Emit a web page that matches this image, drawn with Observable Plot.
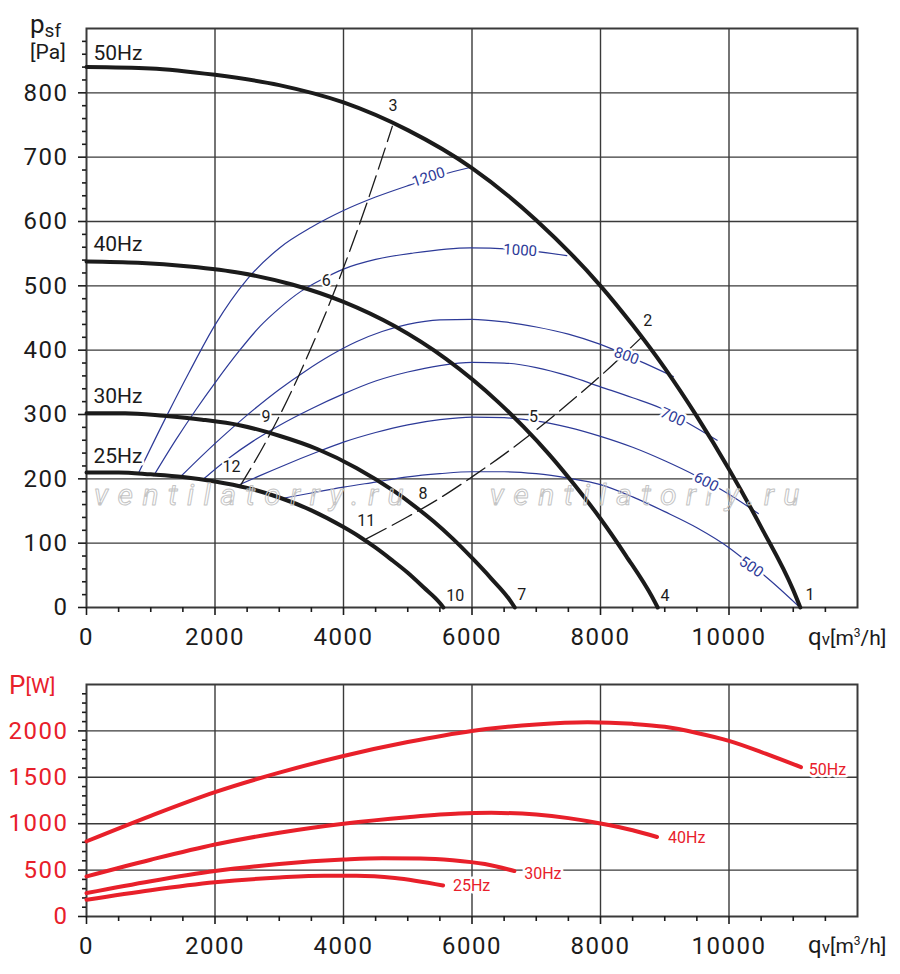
<!DOCTYPE html>
<html>
<head>
<meta charset="utf-8">
<script src="https://cdn.jsdelivr.net/npm/d3@7"></script>
<script src="https://cdn.jsdelivr.net/npm/@observablehq/plot@0.6"></script>
<style>
  html, body { margin: 0; padding: 0; background: #fff; }
  #wrap { position: relative; width: 900px; height: 974px; overflow: hidden; }
  #wrap svg text { font-family: Roboto, "DejaVu Sans", sans-serif; }
  g[aria-label="x-axis tick label"] text, g[aria-label="y-axis tick label"] text { letter-spacing: 1.5px; }
  #overlay { position: absolute; left: 0; top: 0; pointer-events: none; }
</style>
</head>
<body>
<div id="wrap"></div>
<script>
// ---------------- data ----------------
const xTicks = [0, 2000, 4000, 6000, 8000, 10000];
const pTicks = [0, 100, 200, 300, 400, 500, 600, 700, 800];
const wTicks = [0, 500, 1000, 1500, 2000];

// fan pressure curves  [qv m3/h, psf Pa]
const fanNames = ["50Hz", "40Hz", "30Hz", "25Hz"];
const fan50 = [[0,840],[1000,838],[2000,828],[3000,812],[4000,785],[5000,742],[6000,683],[7000,602],[8000,500],[8500,439],[9000,372],[9500,297],[10000,215],[10500,125],[11000,27],[11110,0]];
const fan40 = [[0,538],[800,536],[1600,530],[2400,520],[3200,502],[4000,475],[4800,437],[5600,386],[6400,320],[6800,281],[7200,238],[7600,190],[8000,138],[8400,80],[8800,17],[8890,0]];
const fan30 = [[0,302],[600,302],[1200,298],[1800,292],[2400,283],[3000,267],[3600,246],[4200,217],[4800,180],[5100,158],[5400,134],[5700,107],[6000,77],[6300,45],[6600,10],[6666,0]];
const fan25 = [[0,210],[500,210],[1000,207],[1500,203],[2000,196],[2500,186],[3000,171],[3500,151],[4000,125],[4250,110],[4500,93],[4750,74],[5000,54],[5250,31],[5500,7],[5555,0]];

// blue iso-lines
const isoNames = ["1200", "1000", "800", "700", "600", "500"];
const iso1200 = [[800,207],[1254,299],[1600,366],[2006,440],[2500,510],[3019,560],[3500,591],[4000,617],[4500,638],[5040,657],[5500,672],[5970,684]];
const iso1000 = [[1047,205],[1400,262],[1700,307],[2006,350],[2370,398],[2700,437],[3000,465],[3331,491],[3700,512],[4000,526],[4500,541],[5090,551],[5970,559],[6750,556],[7475,547]];
const iso800 = [[1451,202],[1800,236],[2100,264],[2500,299],[3000,339],[3400,367],[3800,392],[4200,413],[4600,429],[5000,440],[5500,447],[6000,448],[6500,444],[7000,436],[7500,425],[8000,409],[8500,388],[9134,359]];
const iso700 = [[1813,199],[2240,234],[2600,259],[3000,283],[3500,309],[4000,332],[4500,352],[5000,366],[5500,376],[6000,381],[6500,380],[7000,373],[7500,360],[8000,343],[8500,326],[8933,310],[9339,288],[9816,260]];
const iso600 = [[2317,188],[2700,205],[3100,222],[3600,242],[4000,257],[4500,272],[5000,284],[5500,292],[6000,296],[6500,295],[7000,290],[7500,280],[8000,266],[8500,249],[9000,228],[9500,204],[10000,176],[10456,146]];
const iso500 = [[3017,169],[3500,178],[4000,187],[4500,195],[5000,203],[5500,208],[6000,211],[6500,211],[7000,208],[7500,201],[8000,191],[8500,172],[9000,149],[9500,124],[10000,93],[10346,66],[10560,49],[11104,0]];
const isoLabelQ = [5324, 6750, 8405, 9126, 9645, 10346];
const isoLabelP = [669, 555, 391, 296, 195, 63];
const isoLabelAngle = [-18, 3, 20, 24, 28, 35];

// dashed system curves
const sysA = [[2380,187],[2800,259],[3200,338],[3600,428],[4000,528],[4400,639],[4760,748]];
const sysB = [[4360,107],[5000,141],[5500,170],[6000,203],[6500,238],[7000,276],[7500,317],[8000,360],[8640,420]];

// numbered operating points
const pointNames = ["1","2","3","4","5","6","7","8","9","10","11","12"];
const pointQ = [11260, 8735, 4770, 9005, 6957, 3733, 6776, 5236, 2795, 5739, 4355, 2255];
const pointP = [19, 445, 779, 18, 296, 507, 19, 177, 296, 18, 134, 219];

// frequency labels (top chart)
const hzTopQ = [109, 109, 109, 109];
const hzTopP = [862, 564, 328, 235];

// power curves [qv m3/h, P W]
const pow50 = [[0,810],[1000,1085],[2000,1340],[3000,1550],[4000,1730],[5000,1880],[6000,2000],[7000,2070],[7800,2093],[8500,2076],[9000,2044],[9500,1978],[10000,1893],[10570,1755],[11120,1609]];
const pow40 = [[0,432],[1000,612],[2000,776],[3000,903],[4000,1000],[5000,1070],[5800,1110],[6300,1117],[7000,1098],[7500,1060],[8000,1003],[8500,930],[8880,857]];
const pow30 = [[0,252],[1000,380],[2000,490],[3000,565],[4000,613],[4600,628],[5200,626],[5700,607],[6200,565],[6660,490]];
const pow25 = [[0,180],[1000,283],[2000,368],[3000,420],[3700,440],[4200,440],[4800,416],[5550,335]];
const hzBotQ = [11242, 9051, 6812, 5703];
const hzBotP = [1584, 848, 454, 329];

const watermark = ["ventilatorry.ru", "ventilatorry.ru"];
const watermarkQ = [2600, 8760];
const watermarkP = [175, 175];

// ---------------- build tables ----------------
const series = (names, arrs) => names.flatMap((name, i) => arrs[i].map(([q, v]) => ({name, q, v})));
const fans = series(fanNames, [fan50, fan40, fan30, fan25]);
const isos = series(isoNames, [iso1200, iso1000, iso800, iso700, iso600, iso500]);
const syss = series(["A", "B"], [sysA, sysB]);
const pows = series(fanNames, [pow50, pow40, pow30, pow25]);
const isoLabels = isoNames.map((t, i) => ({t, q: isoLabelQ[i], v: isoLabelP[i], r: isoLabelAngle[i]}));
const points = pointNames.map((t, i) => ({t, q: pointQ[i], v: pointP[i]}));
const hzTop = fanNames.map((t, i) => ({t, q: hzTopQ[i], v: hzTopP[i]}));
const hzBot = fanNames.map((t, i) => ({t, q: hzBotQ[i], v: hzBotP[i]}));
const wm = watermark.map((t, i) => ({t, q: watermarkQ[i], v: watermarkP[i]}));

// ---------------- style ----------------
const FONT = "Roboto, 'DejaVu Sans', sans-serif";
const INK = "#1b1b1b", BLUE = "#2d3a98", RED = "#e8202a", GRID = "#3a3a3a";
const xMinor = d3.range(500, 12000, 500).filter(d => d % 2000 !== 0);
const pMinor = d3.range(20, 900, 20).filter(d => d % 100 !== 0);
const wMinor = d3.range(100, 2500, 100).filter(d => d % 500 !== 0);
const fmt = d => String(d);
const none = () => "";
const CURVE = "monotone-x";

function xAxisMarks() {
  return [
    Plot.axisX({ticks: xMinor, tickSize: 5, strokeWidth: 1.6, stroke: INK, tickFormat: none, label: null}),
    Plot.axisX({ticks: xTicks, tickSize: 8, tickPadding: 12, strokeWidth: 1.6, stroke: INK, fill: INK, fontSize: 24, tickFormat: fmt, label: null})
  ];
}
function yAxisMarks(major, minor, color) {
  return [
    Plot.axisY({ticks: minor, tickSize: 4, strokeWidth: 1.6, stroke: INK, tickFormat: none, label: null}),
    Plot.axisY({ticks: major, tickSize: 8, strokeWidth: 1.6, stroke: INK, tickFormat: none, label: null}),
    Plot.axisY({ticks: major, tickSize: 0, tickPadding: 18, fill: color, fontSize: 24, tickFormat: fmt, label: null})
  ];
}

const wrap = document.getElementById("wrap");

const topChart = Plot.plot({
  width: 900, height: 660,
  marginTop: 28, marginBottom: 53, marginLeft: 86, marginRight: 43,
  style: {fontFamily: FONT, fontSize: "24px", background: "white", overflow: "visible"},
  x: {domain: [0, 12000], axis: null},
  y: {domain: [0, 900], axis: null},
  marks: [
    Plot.gridX({ticks: xTicks.slice(1), stroke: GRID, strokeOpacity: 1, strokeWidth: 1.4}),
    Plot.gridY({ticks: pTicks.slice(1), stroke: GRID, strokeOpacity: 1, strokeWidth: 1.4}),
    Plot.frame({stroke: GRID, strokeWidth: 2}),
    ...xAxisMarks(),
    ...yAxisMarks(pTicks, pMinor, INK),
    Plot.line(isos, {x: "q", y: "v", z: "name", stroke: BLUE, strokeWidth: 1.2, curve: CURVE}),
    Plot.line(syss, {x: "q", y: "v", z: "name", stroke: INK, strokeWidth: 1.3, strokeDasharray: "22,7", curve: CURVE}),
    Plot.line(fans, {x: "q", y: "v", z: "name", stroke: INK, strokeWidth: 4, curve: CURVE}),
    Plot.text(wm, {x: "q", y: "v", text: "t", fontSize: 30, fontStyle: "italic", fill: "none", stroke: "#c4c4c4", strokeWidth: 1}),
    Plot.text(isoLabels, {x: "q", y: "v", text: "t", rotate: "r", fill: BLUE, fontSize: 15, stroke: "white", strokeWidth: 5, paintOrder: "stroke"}),
    Plot.text(points, {x: "q", y: "v", text: "t", fill: INK, fontSize: 16, stroke: "white", strokeWidth: 4, paintOrder: "stroke"}),
    Plot.text(hzTop, {x: "q", y: "v", text: "t", textAnchor: "start", fill: INK, fontSize: 21, stroke: "white", strokeWidth: 5, paintOrder: "stroke"})
  ]
});
wrap.appendChild(topChart);

const bottomChart = Plot.plot({
  width: 900, height: 314,
  marginTop: 24, marginBottom: 58, marginLeft: 86, marginRight: 43,
  style: {fontFamily: FONT, fontSize: "24px", background: "white", overflow: "visible"},
  x: {domain: [0, 12000], axis: null},
  y: {domain: [0, 2500], axis: null},
  marks: [
    Plot.gridX({ticks: xTicks.slice(1), stroke: GRID, strokeOpacity: 1, strokeWidth: 1.4}),
    Plot.gridY({ticks: wTicks.slice(1), stroke: GRID, strokeOpacity: 1, strokeWidth: 1.4}),
    Plot.frame({stroke: GRID, strokeWidth: 2}),
    ...xAxisMarks(),
    ...yAxisMarks(wTicks, wMinor, RED),
    Plot.line(pows, {x: "q", y: "v", z: "name", stroke: RED, strokeWidth: 4, strokeLinecap: "round", curve: CURVE}),
    Plot.text(hzBot, {x: "q", y: "v", text: "t", textAnchor: "start", fill: RED, fontSize: 16, stroke: "white", strokeWidth: 5, paintOrder: "stroke"})
  ]
});
wrap.appendChild(bottomChart);

// watermark letter spacing
topChart.querySelectorAll("text").forEach(t => { if (t.textContent === "ventilatorry.ru") t.style.letterSpacing = "9.5px"; });

// ---------------- axis titles (overlay) ----------------
const ov = d3.select(wrap).append("svg").attr("id", "overlay").attr("width", 900).attr("height", 974);
function label(x, y, color, parts) {
  const t = ov.append("text").attr("x", x).attr("y", y).attr("fill", color).style("font-family", FONT);
  parts.forEach(([s, size, dy]) => t.append("tspan").attr("font-size", size).attr("dy", dy || 0).text(s));
}
label(30, 33, INK, [["p", 26], ["sf", 19, 4]]);
label(30, 59, INK, [["[Pa]", 21]]);
label(808, 645, INK, [["q", 24], ["v", 17], ["[m", 21], ["3", 12, -8], ["/h]", 21, 8]]);
label(808, 953, INK, [["q", 24], ["v", 17], ["[m", 21], ["3", 12, -8], ["/h]", 21, 8]]);
label(9, 694, RED, [["P", 26], ["[W]", 21, -1]]);
</script>
</body>
</html>
